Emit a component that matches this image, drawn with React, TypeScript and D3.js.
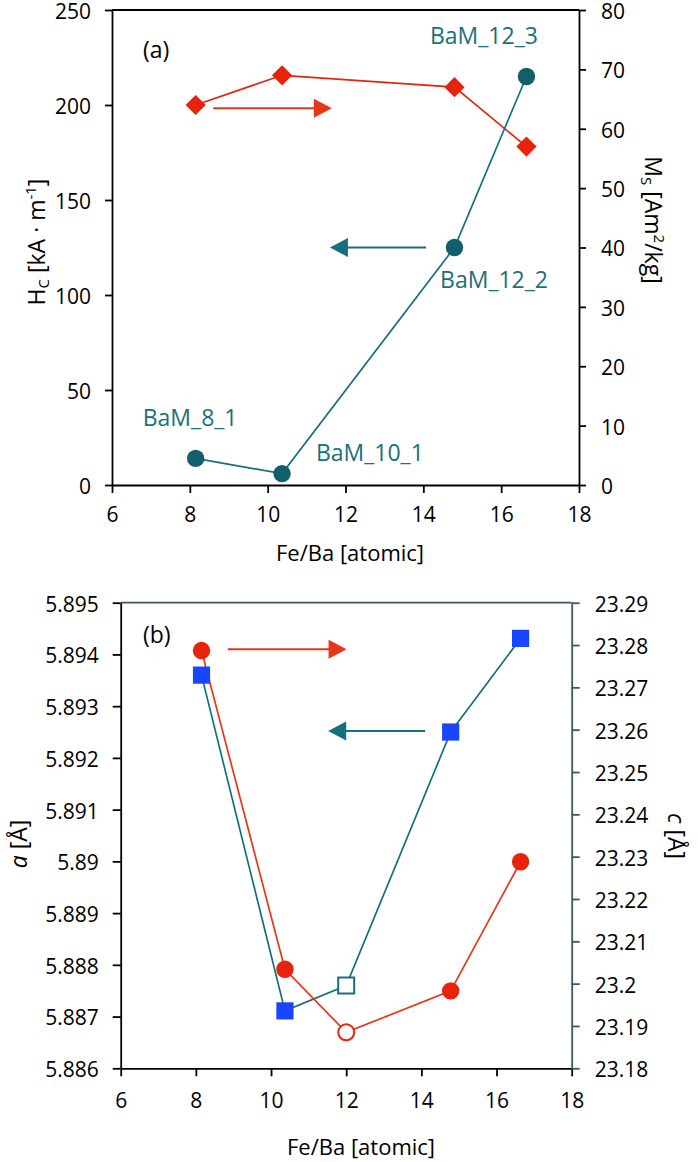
import React, { useEffect, useRef } from 'react';
import * as d3 from 'd3';

// panel (a): coercivity and saturation magnetisation vs Fe/Ba
const feA = [8.15, 10.37, 14.8, 16.65];
const hcVals = [14, 6, 125, 215];
const msVals = [64, 69, 67, 57];
const sampleNames = ['BaM_8_1', 'BaM_10_1', 'BaM_12_2', 'BaM_12_3'];
const nameX = [6.79, 11.24, 14.43, 14.17];
const nameHc = [31, 12.6, 103.7, 232];

// panel (b): lattice parameters a and c
const feB = [8.15, 10.37, 12, 14.78, 16.64];
const aVals = [5.8936, 5.88711, 5.8876, 5.8925, 5.89431];
const cVals = [23.2787, 23.2034, 23.1885, 23.1983, 23.2288];
const openPt = [false, false, true, false, false];

const xTicks = [6, 8, 10, 12, 14, 16, 18];
const hcTicks = [0, 50, 100, 150, 200, 250];
const msTicks = [0, 10, 20, 30, 40, 50, 60, 70, 80];
const aTicks = [5.886, 5.887, 5.888, 5.889, 5.89, 5.891, 5.892, 5.893, 5.894, 5.895];
const cTicks = [23.18, 23.19, 23.2, 23.21, 23.22, 23.23, 23.24, 23.25, 23.26, 23.27, 23.28, 23.29];

const TEAL = '#14707c';
const TEAL_DARK = '#125e6b';
const RED = '#e8230b';
const BLUE = '#1a45ff';
const SLATE = '#3f5560';
const FONT = '"Open Sans", sans-serif';

const App = () => {
  const ref = useRef<SVGSVGElement>(null);

  useEffect(() => {
    const svg = d3.select(ref.current);
    svg.selectAll('*').remove();

    const styleAxis = (g, color = '#000') => {
      g.selectAll('path').attr('stroke', color).attr('stroke-width', 1.8);
      g.selectAll('line').attr('stroke', color).attr('stroke-width', 1.8);
      g.selectAll('text').attr('font-family', FONT).attr('font-size', 21).attr('fill', '#000');
    };
    const vertLabels = g => g.selectAll('text').attr('dy', '0.4em');

    const arrow = (g, x0, x1, y, color) => {
      const dir = x1 > x0 ? 1 : -1;
      g.append('line')
        .attr('x1', x0).attr('x2', x1 - dir * 16).attr('y1', y).attr('y2', y)
        .attr('stroke', color).attr('stroke-width', 2.2);
      g.append('path')
        .attr('d', `M${x1},${y} L${x1 - dir * 18},${y - 9.5} L${x1 - dir * 18},${y + 9.5} Z`)
        .attr('fill', color);
    };

    // ---------- panel (a) ----------
    const x1 = d3.scaleLinear().domain([6, 18]).range([112, 579]);
    const yHc = d3.scaleLinear().domain([0, 250]).range([485, 10]);
    const yMs = d3.scaleLinear().domain([0, 80]).range([485, 10]);
    const ga = svg.append('g');

    ga.append('line').attr('x1', 112).attr('x2', 579).attr('y1', 10).attr('y2', 10)
      .attr('stroke', '#000').attr('stroke-width', 1.8);

    ga.append('g').attr('transform', 'translate(0,485)')
      .call(d3.axisBottom(x1).tickValues(xTicks).tickSize(8).tickSizeOuter(0).tickPadding(14).tickFormat(d3.format('d')))
      .call(styleAxis);
    ga.append('g').attr('transform', 'translate(112,0)')
      .call(d3.axisLeft(yHc).tickValues(hcTicks).tickSize(7).tickSizeOuter(0).tickPadding(14).tickFormat(d3.format('d')))
      .call(styleAxis).call(vertLabels);
    ga.append('g').attr('transform', 'translate(579,0)')
      .call(d3.axisRight(yMs).tickValues(msTicks).tickSize(7).tickSizeOuter(0).tickPadding(15).tickFormat(d3.format('d')))
      .call(styleAxis).call(vertLabels);

    const lineHc = d3.line<number>().x((d, i) => x1(feA[i])).y(d => yHc(d));
    const lineMs = d3.line<number>().x((d, i) => x1(feA[i])).y(d => yMs(d));

    ga.append('path').attr('d', lineMs(msVals)).attr('fill', 'none').attr('stroke', RED).attr('stroke-width', 1.7);
    ga.append('path').attr('d', lineHc(hcVals)).attr('fill', 'none').attr('stroke', TEAL).attr('stroke-width', 1.7);

    ga.selectAll('path.diamond').data(msVals).enter().append('path')
      .attr('class', 'diamond')
      .attr('d', d3.symbol(d3.symbolDiamond2, 260)())
      .attr('transform', (d, i) => `translate(${x1(feA[i])},${yMs(d)})`)
      .attr('fill', RED);

    ga.selectAll('circle.hc').data(hcVals).enter().append('circle')
      .attr('class', 'hc')
      .attr('cx', (d, i) => x1(feA[i])).attr('cy', d => yHc(d)).attr('r', 8.7)
      .attr('fill', TEAL_DARK);

    ga.selectAll('text.name').data(sampleNames).enter().append('text')
      .attr('class', 'name')
      .attr('x', (d, i) => x1(nameX[i])).attr('y', (d, i) => yHc(nameHc[i]))
      .attr('font-family', FONT).attr('font-size', 23).attr('fill', '#1a6f7d')
      .text(d => d);

    arrow(ga, x1(8.6), x1(11.65), yHc(198.3), '#e8361c');
    arrow(ga, x1(14.07), x1(11.6), yHc(125), TEAL);

    ga.append('text').attr('x', 143).attr('y', 58).attr('font-family', FONT).attr('font-size', 23).text('(a)');

    ga.append('text').attr('x', 350).attr('y', 561).attr('text-anchor', 'middle')
      .attr('font-family', FONT).attr('font-size', 22).text('Fe/Ba [atomic]');

    const hcTitle = ga.append('text').attr('transform', 'translate(45,242) rotate(-90)')
      .attr('text-anchor', 'middle').attr('font-family', FONT).attr('font-size', 23);
    hcTitle.append('tspan').text('H');
    hcTitle.append('tspan').attr('font-size', 15).attr('dy', 4).text('C');
    hcTitle.append('tspan').attr('dy', -4).text(' [kA · m');
    hcTitle.append('tspan').attr('font-size', 15).attr('dy', -9).text('-1');
    hcTitle.append('tspan').attr('dy', 9).text(']');

    const msTitle = ga.append('text').attr('transform', 'translate(645,220) rotate(90)')
      .attr('text-anchor', 'middle').attr('font-family', FONT).attr('font-size', 23);
    msTitle.append('tspan').text('M');
    msTitle.append('tspan').attr('font-size', 15).attr('dy', 4).text('S');
    msTitle.append('tspan').attr('dy', -4).text(' [Am');
    msTitle.append('tspan').attr('font-size', 15).attr('dy', -9).text('2');
    msTitle.append('tspan').attr('dy', 9).text('/kg]');

    // ---------- panel (b) ----------
    const x2 = d3.scaleLinear().domain([6, 18]).range([120.7, 571.7]);
    const yA = d3.scaleLinear().domain([5.886, 5.895]).range([1068.3, 602.7]);
    const yC = d3.scaleLinear().domain([23.18, 23.29]).range([1068.3, 602.7]);
    const gb = svg.append('g');

    gb.append('line').attr('x1', 120.7).attr('x2', 571.7).attr('y1', 602.7).attr('y2', 602.7)
      .attr('stroke', SLATE).attr('stroke-width', 1.8);

    gb.append('g').attr('transform', 'translate(0,1068.3)')
      .call(d3.axisBottom(x2).tickValues(xTicks).tickSize(8).tickSizeOuter(0).tickPadding(17).tickFormat(d3.format('d')))
      .call(styleAxis);
    gb.append('g').attr('transform', 'translate(120.7,0)')
      .call(d3.axisLeft(yA).tickValues(aTicks).tickSize(8).tickSizeOuter(0).tickPadding(14).tickFormat(d => String(+d.toFixed(3))))
      .call(styleAxis).call(vertLabels);
    gb.append('g').attr('transform', 'translate(571.7,0)')
      .call(d3.axisRight(yC).tickValues(cTicks).tickSize(8).tickSizeOuter(0).tickPadding(15).tickFormat(d => String(+d.toFixed(2))))
      .call(g => styleAxis(g, SLATE)).call(vertLabels);

    const lineA = d3.line<number>().x((d, i) => x2(feB[i])).y(d => yA(d));
    const lineC = d3.line<number>().x((d, i) => x2(feB[i])).y(d => yC(d));

    gb.append('path').attr('d', lineA(aVals)).attr('fill', 'none').attr('stroke', TEAL).attr('stroke-width', 1.7);
    gb.append('path').attr('d', lineC(cVals)).attr('fill', 'none').attr('stroke', '#ee3318').attr('stroke-width', 1.7);

    gb.selectAll('rect.a').data(aVals).enter().append('rect')
      .attr('class', 'a')
      .attr('x', (d, i) => x2(feB[i]) - (openPt[i] ? 8 : 8.6))
      .attr('y', (d, i) => yA(d) - (openPt[i] ? 8 : 8.6))
      .attr('width', (d, i) => (openPt[i] ? 16 : 17.2))
      .attr('height', (d, i) => (openPt[i] ? 16 : 17.2))
      .attr('fill', (d, i) => (openPt[i] ? '#fff' : BLUE))
      .attr('stroke', (d, i) => (openPt[i] ? TEAL : 'none'))
      .attr('stroke-width', 2);

    gb.selectAll('circle.c').data(cVals).enter().append('circle')
      .attr('class', 'c')
      .attr('cx', (d, i) => x2(feB[i])).attr('cy', d => yC(d))
      .attr('r', (d, i) => (openPt[i] ? 8 : 8.7))
      .attr('fill', (d, i) => (openPt[i] ? '#fff' : RED))
      .attr('stroke', (d, i) => (openPt[i] ? RED : 'none'))
      .attr('stroke-width', 2);

    arrow(gb, x2(8.85), x2(12.01), yC(23.279), '#e8361c');
    arrow(gb, x2(14.1), x2(11.52), yA(5.89252), TEAL);

    gb.append('text').attr('x', 143).attr('y', 643).attr('font-family', FONT).attr('font-size', 23).text('(b)');

    gb.append('text').attr('x', 361).attr('y', 1155).attr('text-anchor', 'middle')
      .attr('font-family', FONT).attr('font-size', 22).text('Fe/Ba [atomic]');

    const aTitle = gb.append('text').attr('transform', 'translate(27,844) rotate(-90)')
      .attr('text-anchor', 'middle').attr('font-family', FONT).attr('font-size', 23);
    aTitle.append('tspan').attr('font-style', 'italic').text('a');
    aTitle.append('tspan').text(' [Å]');

    const cTitle = gb.append('text').attr('transform', 'translate(668,836) rotate(90)')
      .attr('text-anchor', 'middle').attr('font-family', FONT).attr('font-size', 23);
    cTitle.append('tspan').attr('font-style', 'italic').text('c');
    cTitle.append('tspan').text(' [Å]');
  }, []);

  return (
    <svg ref={ref} width={698} height={1162}
      style={{ position: 'absolute', left: 0, top: 0, background: '#fff' }} />
  );
};

export default App;
